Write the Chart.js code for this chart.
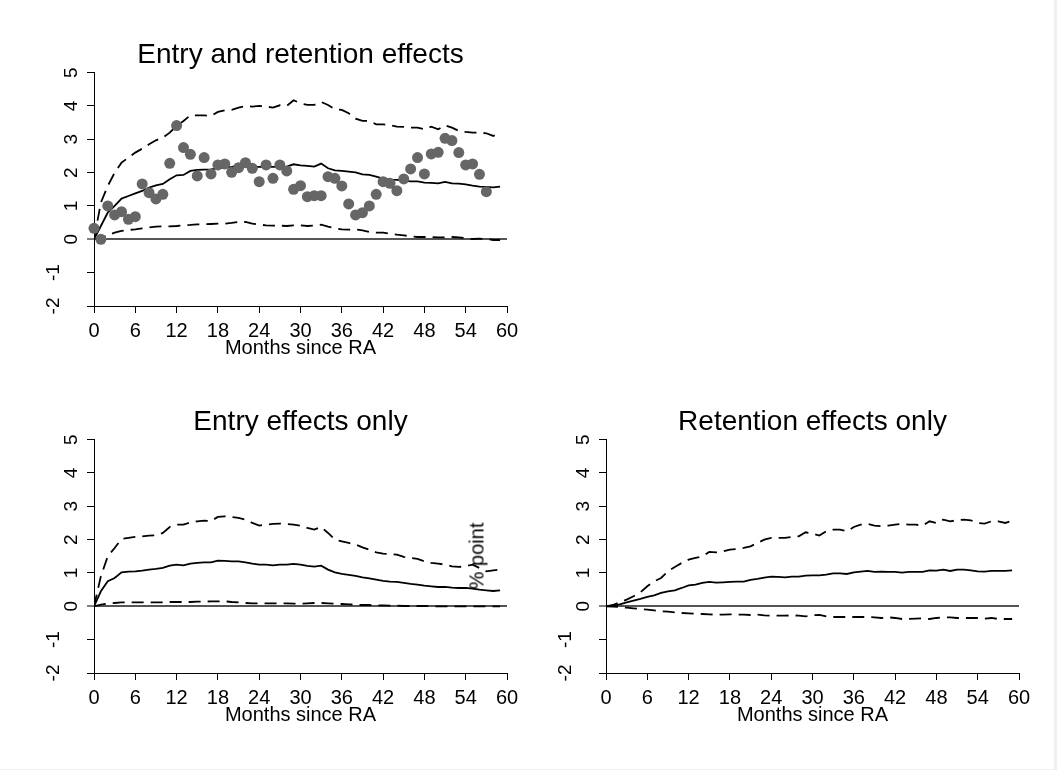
<!DOCTYPE html>
<html>
<head>
<meta charset="utf-8">
<script src="https://cdn.jsdelivr.net/npm/chart.js@4.4.1/dist/chart.umd.min.js"></script>
<style>
html, body { margin: 0; padding: 0; background: #f0f0f0; }
#page { position: relative; width: 1054px; height: 769px; background: #fff; overflow: hidden; }
.panel { position: absolute; width: 530px; height: 367px; }
#ylab { position: absolute; left: 477px; top: 556px; transform: translate(-50%, -50%) rotate(-90deg);
        font: 20px "Liberation Sans", Arial, sans-serif; white-space: nowrap; color: #000; }
</style>
</head>
<body>
<div id="page">
  <div class="panel" style="left:0;top:0"><canvas id="c1" width="530" height="367"></canvas></div>
  <div class="panel" style="left:0;top:367px"><canvas id="c2" width="530" height="367"></canvas></div>
  <div class="panel" style="left:512px;top:367px"><canvas id="c3" width="530" height="367"></canvas></div>
  <div id="ylab">% point</div>
</div>
<script>
// months since RA
var months = [0,1,2,3,4,5,6,7,8,9,10,11,12,13,14,15,16,17,18,19,20,21,22,23,24,25,26,27,28,29,
	30,31,32,33,34,35,36,37,38,39,40,41,42,43,44,45,46,47,48,49,50,51,52,53,54,55,56,57,58,59];

// entry and retention effects
var bothDots = [0.33,0.0,1.0,0.73,0.83,0.6,0.68,1.66,1.4,1.21,1.35,2.28,3.41,2.75,2.55,1.9,2.45,1.96,2.23,2.26,
	2.01,2.15,2.3,2.13,1.73,2.23,1.83,2.23,2.05,1.5,1.61,1.28,1.31,1.31,1.88,1.83,1.6,1.06,0.73,0.8,
	1.0,1.35,1.73,1.68,1.46,1.81,2.11,2.45,1.96,2.56,2.61,3.03,2.96,2.6,2.23,2.26,1.95,1.43];
var bothEst = [0,0.4,0.8,1.0,1.22,1.3,1.38,1.45,1.55,1.62,1.66,1.8,1.92,1.93,2.05,2.08,2.09,2.1,2.13,2.15,
	2.17,2.2,2.18,2.17,2.17,2.18,2.17,2.17,2.18,2.25,2.22,2.2,2.18,2.27,2.13,2.07,2.05,2.03,2.01,1.95,
	1.93,1.88,1.82,1.79,1.78,1.76,1.74,1.74,1.7,1.69,1.68,1.72,1.68,1.67,1.65,1.61,1.58,1.57,1.56,1.58];
var bothHi = [0,1.1,1.6,2.0,2.3,2.45,2.6,2.72,2.85,2.97,3.05,3.2,3.4,3.55,3.72,3.72,3.72,3.7,3.82,3.87,
	3.88,3.95,4.0,3.98,4.0,3.98,3.95,4.02,4.0,4.17,4.08,4.03,4.03,4.12,4.03,3.9,3.88,3.78,3.62,3.55,
	3.55,3.45,3.45,3.42,3.38,3.37,3.35,3.35,3.3,3.38,3.3,3.42,3.35,3.25,3.22,3.2,3.2,3.18,3.1,3.2];
var bothLo = [0,0.05,0.12,0.2,0.25,0.28,0.3,0.33,0.36,0.38,0.39,0.39,0.4,0.42,0.43,0.45,0.45,0.46,0.47,0.47,
	0.49,0.52,0.52,0.47,0.44,0.42,0.41,0.41,0.4,0.42,0.42,0.4,0.41,0.44,0.38,0.33,0.3,0.29,0.3,0.27,
	0.22,0.2,0.2,0.17,0.14,0.12,0.09,0.07,0.07,0.07,0.06,0.06,0.07,0.06,0.03,0.01,0.02,0.01,-0.02,-0.02];

// entry effects only
var entryEst = [0,0.45,0.75,0.85,1.02,1.04,1.05,1.07,1.1,1.12,1.15,1.22,1.25,1.23,1.28,1.3,1.32,1.32,1.37,1.36,
	1.35,1.35,1.32,1.28,1.25,1.25,1.23,1.25,1.25,1.27,1.25,1.21,1.19,1.22,1.1,1.02,0.97,0.94,0.91,0.87,
	0.84,0.8,0.76,0.74,0.73,0.7,0.67,0.65,0.62,0.6,0.58,0.58,0.56,0.55,0.55,0.53,0.5,0.48,0.46,0.48];
var entryHi = [0,0.9,1.5,1.75,2.02,2.05,2.08,2.1,2.12,2.13,2.2,2.38,2.45,2.45,2.52,2.55,2.57,2.56,2.68,2.7,
	2.68,2.65,2.6,2.5,2.42,2.45,2.47,2.48,2.47,2.45,2.42,2.35,2.3,2.38,2.2,2.0,1.95,1.9,1.85,1.77,
	1.7,1.62,1.58,1.57,1.55,1.48,1.45,1.42,1.35,1.3,1.28,1.25,1.2,1.18,1.2,1.25,1.15,1.05,1.08,1.1];
var entryLo = [0,0.05,0.08,0.1,0.12,0.12,0.12,0.12,0.12,0.12,0.12,0.13,0.13,0.13,0.13,0.14,0.14,0.15,0.15,0.15,
	0.13,0.12,0.1,0.09,0.09,0.09,0.09,0.09,0.09,0.08,0.08,0.09,0.1,0.1,0.09,0.08,0.07,0.06,0.05,0.04,
	0.04,0.03,0.03,0.02,0.02,0.01,0.01,0.01,0.01,0,0,0,0,0,0,0,0,0,0,0];

// retention effects only
var retEst = [0,0.02,0.06,0.12,0.17,0.22,0.28,0.33,0.4,0.45,0.48,0.55,0.63,0.65,0.7,0.73,0.71,0.72,0.73,0.74,
	0.74,0.79,0.82,0.86,0.89,0.88,0.87,0.89,0.89,0.92,0.93,0.93,0.95,0.99,0.99,0.97,1.02,1.04,1.06,1.03,
	1.04,1.03,1.03,1.01,1.03,1.03,1.03,1.08,1.07,1.1,1.06,1.1,1.1,1.08,1.05,1.04,1.06,1.06,1.06,1.08];
var retHi = [0,0.04,0.12,0.2,0.3,0.42,0.6,0.75,0.85,1.05,1.18,1.3,1.4,1.45,1.5,1.63,1.62,1.65,1.7,1.72,
	1.75,1.8,1.9,2.0,2.05,2.05,2.05,2.08,2.1,2.22,2.18,2.12,2.25,2.3,2.3,2.25,2.38,2.45,2.47,2.42,
	2.4,2.42,2.45,2.47,2.45,2.45,2.42,2.55,2.5,2.6,2.55,2.58,2.6,2.58,2.5,2.48,2.55,2.55,2.5,2.57];
var retLo = [0,-0.01,-0.02,-0.04,-0.06,-0.08,-0.1,-0.12,-0.15,-0.16,-0.18,-0.2,-0.21,-0.22,-0.23,-0.24,-0.25,-0.25,-0.24,-0.25,
	-0.25,-0.26,-0.25,-0.27,-0.28,-0.28,-0.28,-0.27,-0.28,-0.3,-0.27,-0.26,-0.3,-0.32,-0.32,-0.32,-0.32,-0.32,-0.32,-0.33,
	-0.35,-0.33,-0.35,-0.38,-0.38,-0.37,-0.36,-0.38,-0.35,-0.33,-0.33,-0.35,-0.35,-0.35,-0.35,-0.37,-0.35,-0.38,-0.38,-0.38];

var xTicks = [0, 60, 6];   // min, max, step
var yTicks = [-2, 5, 1];

Chart.defaults.font.family = "'Liberation Sans', Arial, sans-serif";
Chart.defaults.color = "#000";

function pts(ys) {
	var out = [];
	for (var i = 0; i < ys.length; i++) {
		out.push({x: months[i], y: ys[i]});
	}
	return out;
}

function solid(ys) {
	return {data: pts(ys), borderColor: "#000", borderWidth: 1.8, pointRadius: 0, fill: false};
}

function dashed(ys) {
	return {data: pts(ys), borderColor: "#000", borderWidth: 1.8, borderDash: [12, 7], pointRadius: 0, fill: false};
}

function makePanel(id, title, datasets) {
	new Chart(id, {
		type: "line",
		data: {datasets: datasets},
		options: {
			responsive: false,
			animation: false,
			layout: {padding: {top: 38, right: 23, bottom: 0, left: 0}},
			plugins: {
				legend: {display: false},
				tooltip: {enabled: false},
				title: {
					display: true,
					text: title,
					fullSize: false,
					color: "#000",
					font: {size: 28, weight: "normal"},
					padding: {top: 0, bottom: 1}
				}
			},
			scales: {
				x: {
					type: "linear",
					min: xTicks[0], max: xTicks[1],
					ticks: {stepSize: xTicks[2], maxRotation: 0, autoSkip: false, padding: 6, font: {size: 20}},
					grid: {drawOnChartArea: false, tickLength: 7, tickColor: "#000", color: "#000"},
					border: {color: "#000", width: 1},
					title: {display: true, text: "Months since RA", font: {size: 20}, padding: {top: 0, bottom: 7}},
					afterFit: function (s) { s.height = 61; }
				},
				y: {
					min: yTicks[0], max: yTicks[1],
					ticks: {
						stepSize: yTicks[2], minRotation: 90, maxRotation: 90, crossAlign: "center", padding: 7,
						font: {size: 19, lineHeight: 1.9},
						// negative labels sit further left in the original
						callback: function (v) { return v < 0 ? [String(v), ""] : String(v); }
					},
					grid: {
						color: function (c) { return c.tick && c.tick.value === 0 ? "#555" : "rgba(0,0,0,0)"; },
						lineWidth: function (c) { return c.tick && c.tick.value === 0 ? 2 : 1; },
						tickColor: "#000", tickWidth: 1, tickLength: 7
					},
					border: {color: "#000", width: 1},
					afterFit: function (s) { s.width = 94; }
				}
			}
		}
	});
}

makePanel("c1", "Entry and retention effects", [
	{data: pts(bothDots), showLine: false, pointRadius: 5.5, pointBackgroundColor: "#666", pointBorderWidth: 0, clip: false},
	solid(bothEst), dashed(bothHi), dashed(bothLo)
]);
makePanel("c2", "Entry effects only", [solid(entryEst), dashed(entryHi), dashed(entryLo)]);
makePanel("c3", "Retention effects only", [solid(retEst), dashed(retHi), dashed(retLo)]);
</script>
</body>
</html>
